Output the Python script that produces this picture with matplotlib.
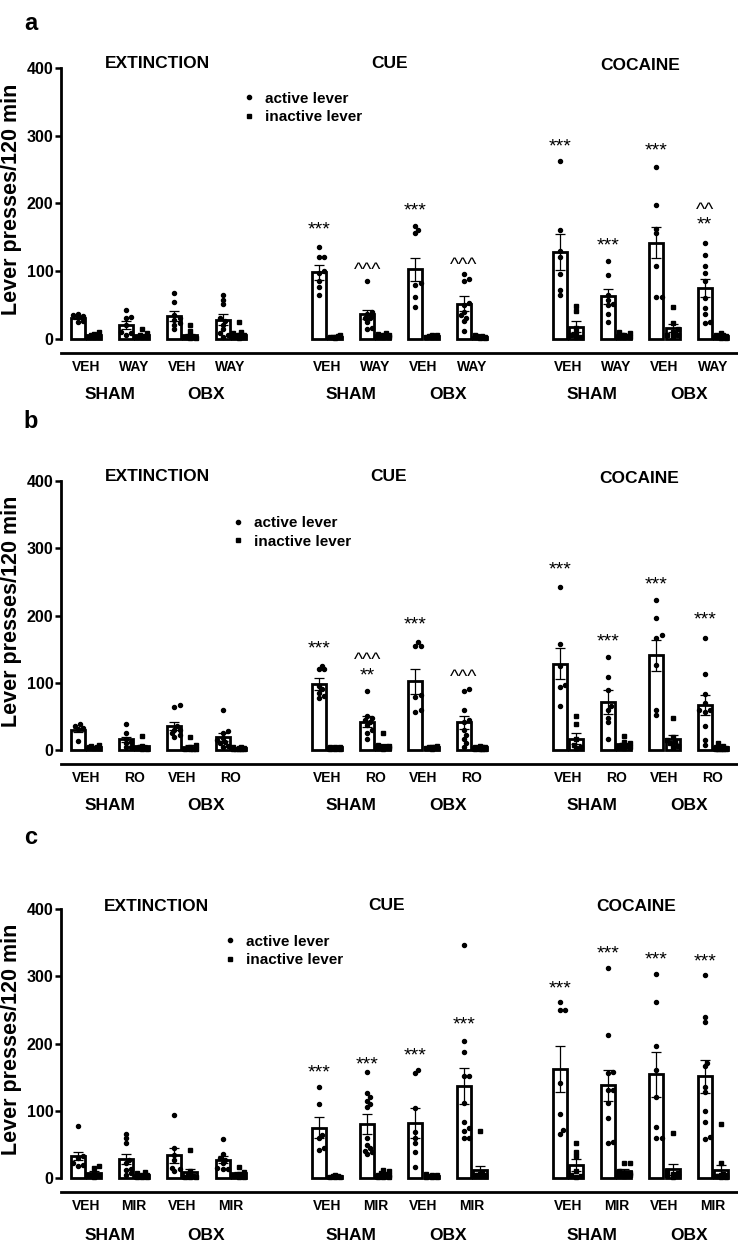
import matplotlib
matplotlib.use('Agg')
import matplotlib.pyplot as plt
from matplotlib.lines import Line2D
import matplotlib.transforms as mtransforms

plt.rcParams['font.family'] = ['Liberation Sans', 'DejaVu Sans']
plt.rcParams['font.weight'] = 'bold'

# ---------------- data ----------------
phases = ['EXTINCTION', 'CUE', 'COCAINE']
surgery = ['SHAM', 'OBX']
a_drugs = ['VEH', 'WAY']
b_drugs = ['VEH', 'RO']
c_drugs = ['VEH', 'MIR']

# order of bars: EXT(SHAM VEH, SHAM drug, OBX VEH, OBX drug), CUE(...), COCAINE(...)
a_active_mean = [31, 20, 34, 28, 98, 36, 103, 52, 128, 63, 142, 75]
a_active_sem = [2, 6, 7, 8, 11, 7, 17, 11, 27, 11, 23, 14]
a_inactive_mean = [5, 5, 5, 6, 3, 5, 4, 3, 18, 6, 16, 4]
a_inactive_sem = [1, 1, 2, 2, 0.5, 1, 0.5, 0.5, 8, 1, 6, 1]
a_active_pts = [
    [37, 35, 34, 32, 26, 25],
    [42, 32, 30, 21, 10, 8, 6],
    [67, 55, 35, 30, 28, 24, 14, 20],
    [64, 58, 52, 30, 26, 21, 14, 8, 6, 3],
    [136, 121, 121, 100, 97, 85, 77, 65],
    [86, 40, 36, 33, 31, 30, 25, 16, 14],
    [166, 161, 156, 82, 80, 61, 47],
    [95, 89, 85, 53, 50, 40, 35, 31, 26, 11],
    [262, 160, 129, 121, 95, 72, 65],
    [115, 94, 64, 58, 52, 50, 37, 25],
    [254, 197, 162, 156, 107, 62, 61],
    [142, 124, 107, 97, 86, 60, 46, 36, 25, 23],
]
a_inactive_pts = [
    [10, 7, 5, 4, 3, 3, 2],
    [14, 8, 5, 4, 3, 2, 2],
    [20, 11, 5, 3, 2, 2, 1, 1],
    [25, 10, 8, 6, 5, 4, 3, 2, 2, 1],
    [5, 4, 3, 3, 2, 2, 2, 1],
    [8, 7, 6, 5, 4, 4, 3, 3, 2],
    [6, 5, 4, 4, 3, 3, 2],
    [5, 4, 4, 3, 3, 2, 2, 2, 1, 1],
    [49, 41, 16, 9, 5, 3, 2],
    [10, 8, 6, 5, 4, 3, 3, 2],
    [47, 24, 14, 10, 6, 5, 4],
    [9, 6, 5, 4, 3, 3, 2, 2, 1, 1],
]
a_marks = [(4, '***', 167), (5, '^^^', 107), (6, '***', 195), (7, '^^^', 115),
           (8, '***', 290), (9, '***', 143), (10, '***', 284),
           (11, '^^', 196), (11, '**', 174)]

b_active_mean = [30, 16, 36, 20, 98, 42, 102, 41, 128, 71, 141, 67]
b_active_sem = [3, 4, 6, 6, 9, 8, 18, 10, 23, 18, 23, 15]
b_inactive_mean = [5, 6, 5, 3, 4, 7, 4, 4, 17, 9, 16, 4]
b_inactive_sem = [1, 2, 2, 0.5, 0.5, 2, 0.5, 0.5, 8, 2, 6, 1]
b_active_pts = [
    [39, 36, 33, 31, 13],
    [39, 26, 16, 12, 10, 5, 4],
    [67, 64, 35, 30, 30, 25, 22, 20],
    [60, 29, 25, 18, 15, 12, 10, 6, 5],
    [125, 120, 120, 95, 90, 85, 80, 77],
    [88, 50, 47, 45, 42, 37, 30, 26, 16],
    [160, 155, 155, 82, 79, 60, 57],
    [90, 88, 59, 45, 42, 30, 22, 17, 10, 5],
    [242, 158, 125, 96, 94, 66],
    [139, 108, 89, 65, 60, 47, 41, 17],
    [223, 197, 171, 167, 126, 59, 52],
    [167, 113, 84, 70, 60, 59, 57, 35, 15, 8],
]
b_inactive_pts = [
    [8, 6, 5, 4, 3, 3],
    [21, 6, 4, 3, 3, 2, 2],
    [19, 8, 5, 3, 2, 2, 1, 1],
    [5, 4, 3, 3, 2, 2, 1, 1, 1],
    [5, 4, 4, 3, 3, 2, 2, 2],
    [26, 8, 6, 5, 5, 4, 3, 3, 2],
    [6, 5, 4, 4, 3, 3, 2],
    [6, 5, 4, 4, 3, 3, 2, 2, 1, 1],
    [51, 38, 16, 8, 5, 3],
    [21, 12, 10, 8, 6, 5, 4, 3],
    [47, 20, 15, 12, 10, 6, 5],
    [10, 6, 4, 3, 3, 2, 2, 1, 1, 1],
]
b_marks = [(4, '***', 157), (5, '^^^', 140), (5, '**', 116), (6, '***', 192),
           (7, '^^^', 114), (8, '***', 274), (9, '***', 167), (10, '***', 252),
           (11, '***', 200)]

c_active_mean = [33, 28, 34, 27, 75, 80, 82, 137, 162, 138, 154, 151]
c_active_sem = [6, 7, 11, 5, 16, 15, 22, 27, 34, 23, 34, 24]
c_inactive_mean = [8, 5, 9, 7, 3, 5, 3, 12, 19, 11, 13, 12]
c_inactive_sem = [2, 1, 5, 2, 0.5, 1, 0.5, 6, 9, 2, 8, 7]
c_active_pts = [
    [77, 32, 30, 22, 20, 18],
    [66, 60, 52, 27, 22, 14, 12, 8, 5],
    [94, 45, 34, 27, 15, 13, 10],
    [58, 35, 30, 27, 22, 15, 14, 13],
    [136, 110, 64, 59, 44, 42],
    [157, 127, 120, 115, 110, 105, 60, 49, 44, 40, 39, 35],
    [161, 156, 104, 69, 60, 52, 39, 17],
    [346, 204, 187, 152, 152, 112, 84, 74, 70, 60, 59],
    [262, 250, 250, 142, 95, 71, 66],
    [313, 213, 158, 156, 131, 131, 112, 89, 54, 52],
    [304, 261, 197, 161, 121, 76, 60, 60],
    [302, 240, 232, 171, 166, 135, 128, 100, 84, 61, 58],
]
c_inactive_pts = [
    [18, 15, 8, 5, 4, 2],
    [9, 7, 5, 4, 3, 3, 2, 2, 1],
    [42, 10, 5, 3, 2, 1, 1],
    [17, 9, 6, 5, 4, 3, 2, 2],
    [4, 3, 3, 2, 2, 2],
    [12, 10, 8, 6, 5, 4, 4, 3, 3, 2, 2, 1],
    [6, 5, 4, 3, 3, 2, 2, 1],
    [70, 8, 6, 5, 4, 4, 3, 3, 3, 4, 5],
    [52, 39, 32, 10, 5, 3, 2],
    [23, 23, 10, 8, 7, 6, 5, 5, 4, 3],
    [67, 10, 8, 6, 5, 4, 3, 2],
    [80, 22, 6, 5, 4, 3, 3, 2, 2, 3, 3],
]
c_marks = [(4, '***', 163), (5, '***', 175), (6, '***', 188), (7, '***', 234),
           (8, '***', 288), (9, '***', 340), (10, '***', 331), (11, '***', 328)]

# ---------------- layout ----------------
slots = [0, 1, 2, 3, 5, 6, 7, 8, 10, 11, 12, 13]
OFF = 0.335
BW = 0.29
XLIM = (-0.35, 13.67)
FIG_W, FIG_H = 738, 1249


def swarm(values, xc, px_x, px_y, d=4.0, step=2.6, kmax=2):
    """Deterministic narrow beeswarm: offsets stay within the bar width."""
    order = sorted(range(len(values)), key=lambda i: values[i])
    placed = []
    xs = [0.0] * len(values)
    cands = [0]
    for k in range(1, kmax + 1):
        cands += [k, -k]
    for i in order:
        y = values[i] * px_y
        best, best_d = 0.0, -1
        for k in cands:
            xo = k * step
            md = min([((xo - px) ** 2 + (y - py) ** 2) ** 0.5 for px, py in placed] or [99])
            if md >= d:
                best = xo
                break
            if md > best_d + 0.3:
                best, best_d = xo, md
        placed.append((best, y))
        xs[i] = xc + best / px_x
    return xs


def draw_panel(rect, ymin, letter, letter_y, drugs, am, asem, im, isem, apts, ipts,
               marks, leg_pos, title_pos, ylab_y, grp_y):
    ax = fig.add_axes(rect)
    ax.set_xlim(*XLIM)
    ax.set_ylim(ymin, 400)
    px_x = rect[2] * FIG_W / (XLIM[1] - XLIM[0])
    px_y = rect[3] * FIG_H / (400 - ymin)
    xa = [s for s in slots]
    xi = [s + OFF for s in slots]
    ekw = dict(elinewidth=0.9, capthick=0.9, ecolor='black', zorder=4)
    ax.bar(xa, am, BW, yerr=asem, capsize=3.5, facecolor='white', edgecolor='black',
           linewidth=2.0, error_kw=ekw, zorder=2)
    ax.bar(xi, im, BW, yerr=isem, capsize=3.5, facecolor='white', edgecolor='black',
           linewidth=2.0, error_kw=ekw, zorder=2)
    for j in range(12):
        xs = swarm(apts[j], xa[j], px_x, px_y)
        ax.plot(xs, apts[j], 'o', ms=2.9, color='black', mec='black', zorder=5, clip_on=False)
        xs = swarm(ipts[j], xi[j], px_x, px_y)
        ax.plot(xs, ipts[j], 's', ms=2.7, color='black', mec='black', zorder=5, clip_on=False)
    for j, txt, yv in marks:
        ax.annotate(txt, xy=(xa[j], yv), xytext=(0, -3), textcoords='offset points',
                    ha='center', va='center', fontsize=14, fontweight='normal',
                    annotation_clip=False)
    # spines
    for s in ['top', 'right']:
        ax.spines[s].set_visible(False)
    ax.spines['left'].set_bounds(0, 400)
    ax.spines['left'].set_linewidth(2.0)
    ax.spines['bottom'].set_linewidth(2.0)
    ax.set_yticks([0, 100, 200, 300, 400])
    ax.tick_params(axis='y', length=4, width=1.8, pad=1.5, labelsize=11.5)
    ticks_x = [s + OFF / 2 for s in slots]
    ax.set_xticks(ticks_x)
    ax.set_xticklabels([drugs[0], drugs[1]] * 6)
    ax.tick_params(axis='x', length=0, pad=5, labelsize=10)
    for lab in ax.get_yticklabels() + ax.get_xticklabels():
        lab.set_fontweight('bold')
    ax.set_ylabel('Lever presses/120 min', fontsize=15.5, fontweight='bold')
    ax.yaxis.label.set_verticalalignment('center')
    ax.yaxis.set_label_coords(-0.073, ylab_y)
    # group labels
    tr = mtransforms.blended_transform_factory(ax.transData, ax.transAxes)
    for g in range(3):
        base = g * 4
        for si, sname in enumerate(surgery):
            xc = (ticks_x[base + 2 * si] + ticks_x[base + 2 * si + 1]) / 2
            ax.text(xc, grp_y, sname, transform=tr, ha='center', va='center',
                    fontsize=12.5, fontweight='bold')
    # phase titles
    for (xt, yt), name in zip(title_pos, phases):
        ax.text(xt, yt, name, ha='center', va='center', fontsize=12.5, fontweight='bold',
                clip_on=False)
    # legend
    handles = [Line2D([], [], marker='o', ls='none', color='black', ms=3.0),
               Line2D([], [], marker='s', ls='none', color='black', ms=3.0)]
    ax.legend(handles, ['active lever', 'inactive lever'], loc='center left',
              bbox_to_anchor=leg_pos, frameon=False, handlelength=1.0,
              handletextpad=0.6, labelspacing=0.3, borderpad=0, borderaxespad=0,
              prop={'size': 11, 'weight': 'bold'})
    fig.text(31 / FIG_W, 1 - letter_y / FIG_H, letter, fontsize=17, fontweight='bold',
             ha='center', va='baseline')
    return ax


fig = plt.figure(figsize=(FIG_W / 100, FIG_H / 100), dpi=100)

draw_panel([61 / FIG_W, 1 - 353 / FIG_H, 676 / FIG_W, 285 / FIG_H], -21, 'a', 30, a_drugs,
           a_active_mean, a_active_sem, a_inactive_mean, a_inactive_sem,
           a_active_pts, a_inactive_pts, a_marks,
           ((241 - 61) / 676, (353 - 108) / 285),
           [(1.64, 406), (6.47, 407), (11.66, 404)], 0.54, -0.147)

draw_panel([61 / FIG_W, 1 - 764 / FIG_H, 676 / FIG_W, 283 / FIG_H], -20.8, 'b', 428, b_drugs,
           b_active_mean, b_active_sem, b_inactive_mean, b_inactive_sem,
           b_active_pts, b_inactive_pts, b_marks,
           ((230 - 61) / 676, (764 - 532.5) / 283),
           [(1.64, 406), (6.45, 406), (11.64, 404)], 0.54, -0.145)

draw_panel([61 / FIG_W, 1 - 1192 / FIG_H, 676 / FIG_W, 283 / FIG_H], -20.8, 'c', 844, c_drugs,
           c_active_mean, c_active_sem, c_inactive_mean, c_inactive_sem,
           c_active_pts, c_inactive_pts, c_marks,
           ((222 - 61) / 676, (1192 - 951) / 283),
           [(1.62, 404), (6.41, 405), (11.58, 404)], 0.54, -0.152)

fig.savefig('out.png', dpi=100)
